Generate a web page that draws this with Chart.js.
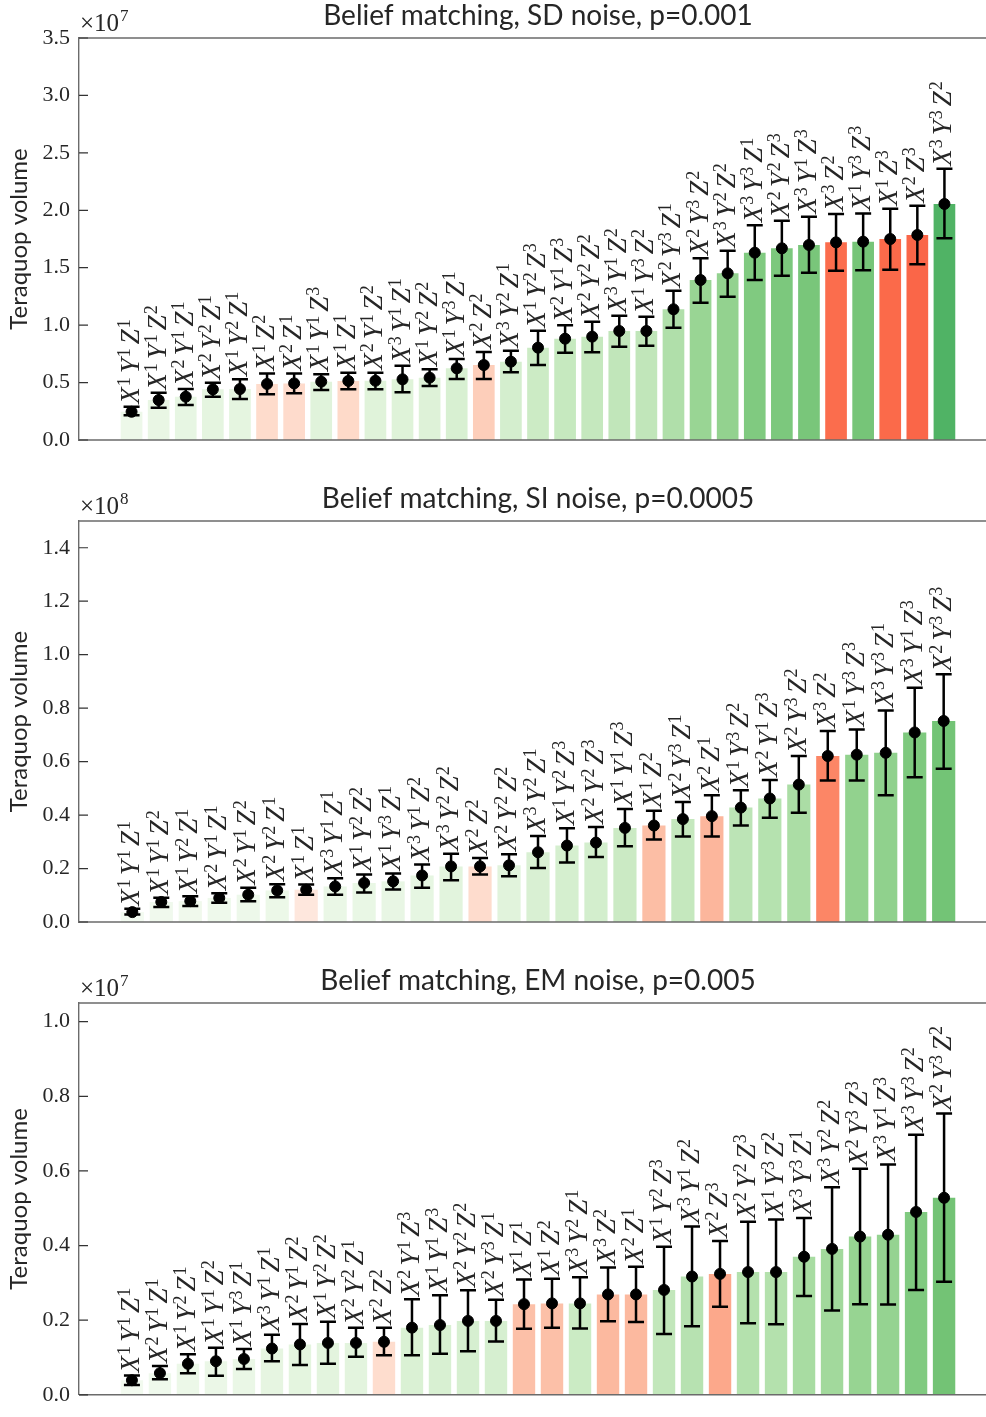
<!DOCTYPE html>
<html>
<head>
<meta charset="utf-8">
<script src="https://cdn.jsdelivr.net/npm/chart.js@4.4.0/dist/chart.umd.min.js"></script>
<style>
    html, body { margin: 0; padding: 0; background: #fff; }
    canvas { display: block; }
</style>
</head>
<body>
<canvas id="chart-sd" width="986" height="482" style="width:986px;height:482px"></canvas>
<canvas id="chart-si" width="986" height="482" style="width:986px;height:482px"></canvas>
<canvas id="chart-em" width="986" height="453" style="width:986px;height:453px"></canvas>
<script>
// --- SD noise, p=0.001 (values x 10^7) ---
const sdLabels = ['X1Y1Z1', 'X1Y1Z2', 'X2Y1Z1', 'X2Y2Z1', 'X1Y2Z1', 'X1Z2', 'X2Z1', 'X1Y1Z3', 'X1Z1', 'X2Y1Z2',
    'X3Y1Z1', 'X1Y2Z2', 'X1Y3Z1', 'X2Z2', 'X3Y2Z1', 'X1Y2Z3', 'X2Y1Z3', 'X2Y2Z2', 'X3Y1Z2', 'X1Y3Z2',
    'X2Y3Z1', 'X2Y3Z2', 'X3Y2Z2', 'X3Y3Z1', 'X2Y2Z3', 'X3Y1Z3', 'X3Z2', 'X1Y3Z3', 'X1Z3', 'X2Z3', 'X3Y3Z2'];
const sdMean = [0.246, 0.348, 0.377, 0.441, 0.444, 0.488, 0.493, 0.508, 0.514, 0.516,
    0.528, 0.543, 0.624, 0.653, 0.682, 0.804, 0.882, 0.900, 0.949, 0.949,
    1.138, 1.393, 1.451, 1.631, 1.669, 1.698, 1.721, 1.727, 1.750, 1.785, 2.055];
const sdLow = [0.215, 0.281, 0.305, 0.377, 0.357, 0.398, 0.406, 0.435, 0.441, 0.441,
    0.415, 0.470, 0.531, 0.531, 0.589, 0.653, 0.760, 0.763, 0.812, 0.821,
    0.978, 1.195, 1.248, 1.393, 1.430, 1.457, 1.474, 1.477, 1.483, 1.530, 1.756];
const sdHigh = [0.290, 0.412, 0.444, 0.499, 0.528, 0.580, 0.580, 0.572, 0.586, 0.586,
    0.647, 0.615, 0.705, 0.766, 0.778, 0.952, 0.998, 1.030, 1.082, 1.074,
    1.300, 1.582, 1.648, 1.869, 1.909, 1.944, 1.968, 1.973, 2.014, 2.040, 2.362];
const sdTicks = [0.0, 0.5, 1.0, 1.5, 2.0, 2.5, 3.0, 3.5];

// --- SI noise, p=0.0005 (values x 10^8) ---
const siLabels = ['X1Y1Z1', 'X1Y1Z2', 'X1Y2Z1', 'X2Y1Z1', 'X2Y1Z2', 'X2Y2Z1', 'X1Z1', 'X3Y1Z1', 'X1Y2Z2', 'X1Y3Z1',
    'X3Y1Z2', 'X3Y2Z2', 'X2Z2', 'X2Y2Z2', 'X3Y2Z1', 'X1Y2Z3', 'X2Y2Z3', 'X1Y1Z3', 'X1Z2', 'X2Y3Z1',
    'X2Z1', 'X1Y3Z2', 'X2Y1Z3', 'X2Y3Z2', 'X3Z2', 'X1Y3Z3', 'X3Y3Z1', 'X3Y1Z3', 'X2Y3Z3'];
const siMean = [0.037, 0.075, 0.078, 0.090, 0.102, 0.118, 0.121, 0.133, 0.146, 0.152,
    0.174, 0.208, 0.208, 0.212, 0.261, 0.286, 0.297, 0.352, 0.361, 0.385,
    0.396, 0.428, 0.462, 0.514, 0.621, 0.626, 0.633, 0.709, 0.752];
const siLow = [0.028, 0.056, 0.060, 0.072, 0.078, 0.093, 0.102, 0.102, 0.110, 0.122,
    0.128, 0.156, 0.178, 0.171, 0.202, 0.223, 0.243, 0.283, 0.309, 0.320,
    0.320, 0.361, 0.390, 0.409, 0.529, 0.529, 0.474, 0.541, 0.573];
const siHigh = [0.050, 0.091, 0.096, 0.108, 0.128, 0.141, 0.140, 0.164, 0.178, 0.181,
    0.215, 0.255, 0.239, 0.253, 0.322, 0.351, 0.355, 0.423, 0.416, 0.449,
    0.474, 0.493, 0.531, 0.621, 0.714, 0.720, 0.791, 0.876, 0.927];
const siTicks = [0.0, 0.2, 0.4, 0.6, 0.8, 1.0, 1.2, 1.4];

// --- EM noise, p=0.005 (values x 10^7) ---
const emLabels = ['X1Y1Z1', 'X2Y1Z1', 'X1Y2Z1', 'X1Y1Z2', 'X1Y3Z1', 'X3Y1Z1', 'X2Y1Z2', 'X1Y2Z2', 'X2Y2Z1', 'X2Z2',
    'X2Y1Z3', 'X1Y1Z3', 'X2Y2Z2', 'X2Y3Z1', 'X1Z1', 'X1Z2', 'X3Y2Z1', 'X3Z2', 'X2Z1', 'X1Y2Z3',
    'X3Y1Z2', 'X2Z3', 'X2Y2Z3', 'X1Y3Z2', 'X3Y3Z1', 'X3Y2Z2', 'X2Y3Z3', 'X3Y1Z3', 'X3Y3Z2', 'X2Y3Z2'];
const emMean = [0.039, 0.058, 0.083, 0.090, 0.096, 0.124, 0.135, 0.139, 0.139, 0.142,
    0.180, 0.187, 0.198, 0.198, 0.243, 0.245, 0.245, 0.269, 0.269, 0.281,
    0.317, 0.324, 0.329, 0.329, 0.370, 0.391, 0.424, 0.429, 0.490, 0.528];
const emLow = [0.026, 0.042, 0.058, 0.051, 0.069, 0.090, 0.080, 0.083, 0.102, 0.106,
    0.106, 0.110, 0.117, 0.143, 0.177, 0.180, 0.178, 0.197, 0.195, 0.163,
    0.184, 0.236, 0.192, 0.189, 0.265, 0.226, 0.243, 0.242, 0.281, 0.303];
const emHigh = [0.052, 0.077, 0.109, 0.126, 0.123, 0.161, 0.190, 0.196, 0.180, 0.180,
    0.256, 0.267, 0.280, 0.255, 0.309, 0.311, 0.315, 0.341, 0.343, 0.397,
    0.451, 0.412, 0.464, 0.470, 0.474, 0.556, 0.606, 0.617, 0.697, 0.754];
const emTicks = [0.0, 0.2, 0.4, 0.6, 0.8, 1.0];

// matplotlib Greens / Reds
const GREENS = ['#f7fcf5', '#e5f5e0', '#c7e9c0', '#a1d99b', '#74c476', '#41ab5d', '#238b45', '#006d2c', '#00441b'];
const REDS = ['#fff5f0', '#fee0d2', '#fcbba1', '#fc9272', '#fb6a4a', '#ef3b2c', '#cb181d', '#a50f15', '#67000d'];

const AXIS_LEFT = 79;
const AXIS_FULL_WIDTH = 918;   // axes go past the right edge of the picture
const SERIF = '"Liberation Serif", "DejaVu Serif", serif';
const SANS = 'Lato, "DejaVu Sans", sans-serif';

function hexToRgb(hex) {
    const n = parseInt(hex.slice(1), 16);
    return [(n >> 16) & 255, (n >> 8) & 255, n & 255];
}

function cmap(stops, t) {
    t = Math.max(0, Math.min(1, t));
    const pos = t * (stops.length - 1);
    const i = Math.min(Math.floor(pos), stops.length - 2);
    const f = pos - i;
    const a = hexToRgb(stops[i]);
    const b = hexToRgb(stops[i + 1]);
    const c = a.map((v, k) => Math.round(v + (b[k] - v) * f));
    return `rgb(${c[0]}, ${c[1]}, ${c[2]})`;
}

// draws "X1Y2Z3" as X^1 Y^2 Z^3, rotated to read upwards
function drawOpLabel(ctx, label, x, y) {
    const parts = label.match(/[XYZ]\d/g);
    ctx.save();
    ctx.translate(x, y);
    ctx.rotate(-Math.PI / 2);
    ctx.fillStyle = '#262626';
    ctx.textBaseline = 'alphabetic';
    ctx.textAlign = 'left';
    let cx = 0;
    parts.forEach(p => {
        ctx.font = `italic 27px ${SERIF}`;
        ctx.fillText(p[0], cx, 7);
        cx += ctx.measureText(p[0]).width + 1;
        ctx.font = `18px ${SERIF}`;
        ctx.fillText(p[1], cx, -2);
        cx += ctx.measureText(p[1]).width + 4;
    });
    ctx.restore();
}

function makeDecor(p) {
    return {
        id: 'panelDecor',
        afterDatasetsDraw(chart) {
            const { ctx, scales: { x, y } } = chart;
            ctx.save();
            ctx.strokeStyle = '#000';
            ctx.lineWidth = 2.5;
            p.labels.forEach((lab, i) => {
                const px = x.getPixelForValue(i);
                const yLo = y.getPixelForValue(p.low[i]);
                const yHi = y.getPixelForValue(p.high[i]);
                ctx.beginPath();
                ctx.moveTo(px, yLo); ctx.lineTo(px, yHi);
                ctx.moveTo(px - 8, yLo); ctx.lineTo(px + 8, yLo);
                ctx.moveTo(px - 8, yHi); ctx.lineTo(px + 8, yHi);
                ctx.stroke();
                drawOpLabel(ctx, lab, px, yHi - 3);
            });
            ctx.restore();
        },
        afterDraw(chart) {
            const { ctx, chartArea: area, scales: { y } } = chart;
            ctx.save();
            // top and bottom spines
            ctx.strokeStyle = '#6b6b6b';
            ctx.lineWidth = 1.4;
            ctx.beginPath();
            ctx.moveTo(area.left, area.top); ctx.lineTo(area.right, area.top);
            ctx.moveTo(area.left, area.bottom); ctx.lineTo(area.right, area.bottom);
            ctx.stroke();
            // inward ticks
            ctx.strokeStyle = '#333';
            ctx.lineWidth = 1.2;
            ctx.beginPath();
            y.ticks.forEach(t => {
                const ty = y.getPixelForValue(t.value);
                ctx.moveTo(area.left, ty); ctx.lineTo(area.left + 9, ty);
            });
            ctx.stroke();
            // title
            ctx.fillStyle = '#262626';
            ctx.font = `28px ${SANS}`;
            ctx.textAlign = 'center';
            ctx.textBaseline = 'alphabetic';
            ctx.fillText(p.title, area.left + AXIS_FULL_WIDTH / 2, area.top - 13);
            // offset text
            ctx.textAlign = 'left';
            ctx.font = `25px ${SERIF}`;
            ctx.fillText('×10', area.left + 1, area.top - 7);
            const w = ctx.measureText('×10').width;
            ctx.font = `17px ${SERIF}`;
            ctx.fillText(String(p.exponent), area.left + 2 + w, area.top - 17);
            // y axis label
            ctx.translate(27, (area.top + area.bottom) / 2);
            ctx.rotate(-Math.PI / 2);
            ctx.textAlign = 'center';
            ctx.font = `24px ${SANS}`;
            ctx.fillText('Teraquop volume', 0, 0);
            ctx.restore();
        }
    };
}

function buildPanel(canvasId, p) {
    const n = p.labels.length;
    const xMin = -0.4 - 0.05 * (n - 0.2);
    const xMaxFull = n - 0.6 + 0.05 * (n - 0.2);
    const canvas = document.getElementById(canvasId);
    const visible = (canvas.width - AXIS_LEFT) / AXIS_FULL_WIDTH;
    const xMax = xMin + (xMaxFull - xMin) * visible;

    const colors = p.mean.map((v, i) => cmap(p.labels[i].includes('Y') ? GREENS : REDS, v / p.yMax));
    const points = p.mean.map((v, i) => ({ x: i, y: v }));

    return new Chart(canvas.getContext('2d'), {
        type: 'bar',
        data: {
            datasets: [
                {
                    type: 'scatter',
                    data: points,
                    backgroundColor: '#000',
                    borderColor: '#000',
                    pointRadius: 5.5,
                    pointHoverRadius: 5.5,
                    order: 0
                },
                {
                    type: 'bar',
                    data: points,
                    backgroundColor: colors,
                    borderWidth: 0,
                    barPercentage: 0.8,
                    categoryPercentage: 1,
                    order: 1
                }
            ]
        },
        options: {
            responsive: false,
            animation: false,
            devicePixelRatio: 1,
            layout: { autoPadding: false, padding: { top: p.padTop, bottom: p.padBottom, left: 0, right: 0 } },
            plugins: { legend: { display: false }, tooltip: { enabled: false }, title: { display: false } },
            scales: {
                x: { type: 'linear', min: xMin, max: xMax, offset: false, display: false },
                y: {
                    type: 'linear',
                    min: 0,
                    max: p.yMax,
                    afterFit: scale => { scale.width = AXIS_LEFT; },
                    afterBuildTicks: scale => { scale.ticks = p.ticks.map(v => ({ value: v })); },
                    grid: { display: false, drawTicks: false },
                    border: { display: true, color: '#6b6b6b', width: 1.4 },
                    ticks: {
                        padding: 9,
                        color: '#262626',
                        font: { family: SERIF, size: 22 },
                        callback: v => Number(v).toFixed(1)
                    }
                }
            }
        },
        plugins: [makeDecor(p)]
    });
}

buildPanel('chart-sd', {
    title: 'Belief matching, SD noise, p=0.001', exponent: 7,
    labels: sdLabels, mean: sdMean, low: sdLow, high: sdHigh, ticks: sdTicks,
    yMax: 3.5, padTop: 38, padBottom: 42
});
buildPanel('chart-si', {
    title: 'Belief matching, SI noise, p=0.0005', exponent: 8,
    labels: siLabels, mean: siMean, low: siLow, high: siHigh, ticks: siTicks,
    yMax: 1.5, padTop: 39, padBottom: 42
});
buildPanel('chart-em', {
    title: 'Belief matching, EM noise, p=0.005', exponent: 7,
    labels: emLabels, mean: emMean, low: emLow, high: emHigh, ticks: emTicks,
    yMax: 1.05, padTop: 39, padBottom: 12
});
</script>
</body>
</html>
